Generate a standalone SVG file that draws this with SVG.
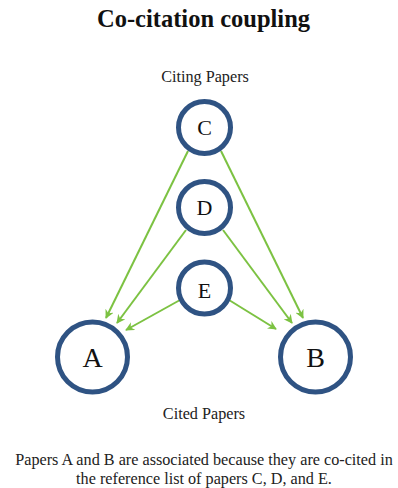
<svg xmlns="http://www.w3.org/2000/svg" width="398" height="488" viewBox="0 0 398 488">
  <style>
    .node { fill: #ffffff; stroke: #2f5383; stroke-width: 5; }
    .edge { stroke: #7cc242; stroke-width: 2; fill: none; marker-end: url(#arrow); }
    .lbl { font-family: "Liberation Serif", "Times New Roman", serif; fill: #111; text-anchor: middle; }
    .small { font-size: 22px; }
    .big { font-size: 28px; }
    .cap { font-family: "Liberation Serif", "Times New Roman", serif; fill: #222; font-size: 16.2px; text-anchor: middle; }
    .title { font-family: "Liberation Serif", "Times New Roman", serif; font-weight: bold; font-size: 24.5px; fill: #111; text-anchor: middle; }
  </style>
  <defs>
    <marker id="arrow" viewBox="0 0 10 10" refX="9" refY="5" markerWidth="9" markerHeight="9" orient="auto" markerUnits="userSpaceOnUse">
      <path d="M0,0 L10,5 L0,10 L3,5 Z" fill="#7cc242"/>
    </marker>
  </defs>
  <rect width="398" height="488" fill="#ffffff"/>

  <text class="title" x="203.5" y="27">Co-citation coupling</text>
  <text class="cap" x="205" y="82">Citing Papers</text>
  <text class="cap" x="204" y="419">Cited Papers</text>
  <text class="cap" x="204" y="465">Papers A and B are associated because they are co-cited in</text>
  <text class="cap" x="204" y="484">the reference list of papers C, D, and E.</text>

  <g id="connectors">
    <line class="edge" x1="188" y1="151" x2="106" y2="318"/>
    <line class="edge" x1="221" y1="151" x2="303" y2="318"/>
    <line class="edge" x1="186" y1="230" x2="117" y2="323"/>
    <line class="edge" x1="223" y1="230" x2="292" y2="323"/>
    <line class="edge" x1="180" y1="300" x2="126" y2="330"/>
    <line class="edge" x1="229" y1="300" x2="276" y2="329"/>
  </g>

  <g id="node-C">
    <circle class="node" cx="204.5" cy="127.5" r="26"/>
    <text class="lbl small" x="204.5" y="135">C</text>
  </g>
  <g id="node-D">
    <circle class="node" cx="204.5" cy="207.5" r="26"/>
    <text class="lbl small" x="204.5" y="215">D</text>
  </g>
  <g id="node-E">
    <circle class="node" cx="204.5" cy="288" r="26"/>
    <text class="lbl small" x="204.5" y="298">E</text>
  </g>
  <g id="node-A">
    <circle class="node" cx="92.5" cy="357" r="35"/>
    <text class="lbl big" x="92.5" y="367">A</text>
  </g>
  <g id="node-B">
    <circle class="node" cx="315.5" cy="357" r="35"/>
    <text class="lbl big" x="315.5" y="367">B</text>
  </g>
</svg>
